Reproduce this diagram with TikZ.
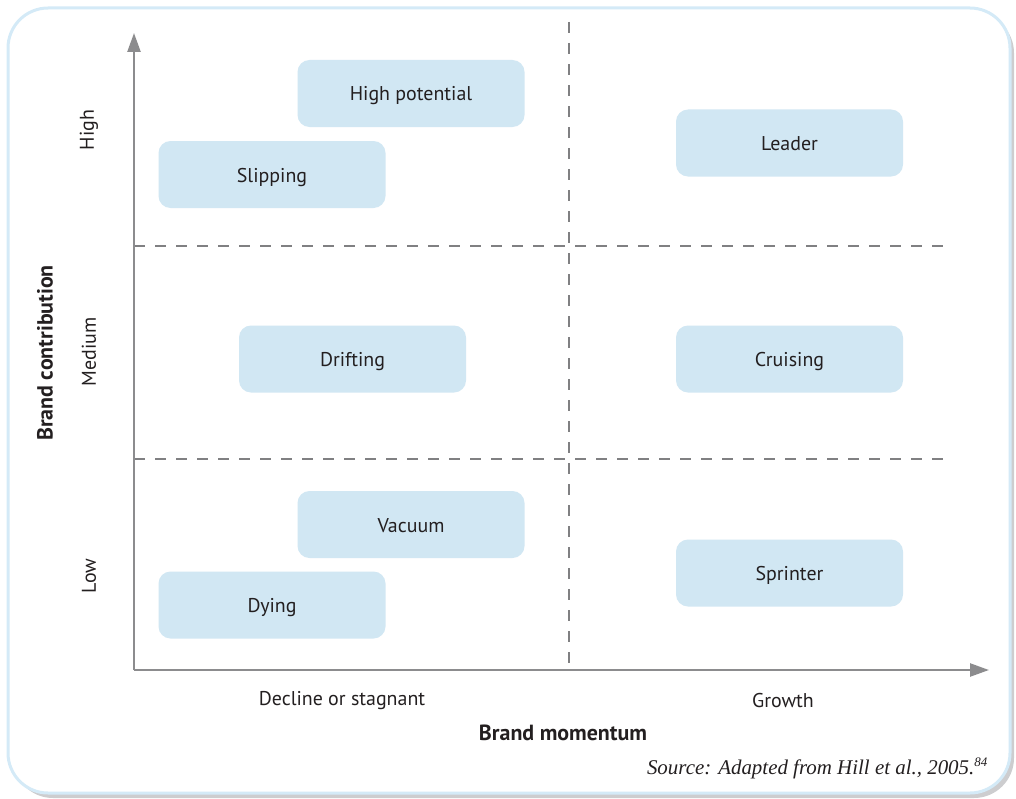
\documentclass[tikz,border=0pt]{standalone}
\usepackage{fontspec}
\setmainfont{PT Sans}
\newfontfamily\srcfont{Liberation Serif}
\usetikzlibrary{arrows.meta}

\definecolor{cellblue}{RGB}{209,231,243}
\definecolor{frameblue}{RGB}{212,234,247}
\definecolor{inkgrey}{RGB}{35,31,32}
\definecolor{axisgrey}{RGB}{140,140,142}
\definecolor{dashgrey}{RGB}{128,128,130}
\definecolor{shadowgrey}{RGB}{205,205,207}

\tikzset{
  cell/.style={fill=cellblue, rounded corners=12bp, minimum width=227bp,
    minimum height=67bp, inner sep=0pt, text=inkgrey,
    text height=15bp, text depth=0bp,
    font=\fontsize{20}{24}\selectfont},
  lbl/.style={text=inkgrey, inner sep=0pt, font=\fontsize{20}{24}\selectfont},
  boldlbl/.style={text=inkgrey, inner sep=0pt, font=\fontsize{22}{26}\selectfont\bfseries},
  axisline/.style={draw=axisgrey, line width=2.4bp, -{Triangle[length=19bp,width=13bp]}},
  divider/.style={draw=dashgrey, line width=2.2bp, dash pattern=on 11bp off 10bp}
}

\begin{document}
\begin{tikzpicture}[x=1bp, y=-1bp]
  \useasboundingbox (0,0) rectangle (1016,799);

  % panel with soft shadow
  \fill[shadowgrey, rounded corners=40bp] (13,13) rectangle (1014,798);
  \filldraw[fill=white, draw=frameblue, line width=3bp, rounded corners=40bp]
    (8,8) rectangle (1010,793);

  % quadrant dividers
  \coordinate (vtop) at (569,22);
  \coordinate (vbot) at (569,670);
  \coordinate (h1l) at (134,246);
  \coordinate (h1r) at (945,246);
  \coordinate (h2l) at (134,459);
  \coordinate (h2r) at (945,459);
  \draw[divider] (vtop) -- (vbot);
  \draw[divider] (h1l) -- (h1r);
  \draw[divider] (h2l) -- (h2r);

  % axes
  \coordinate (origin) at (134,670);
  \coordinate (ytip) at (134,33);
  \coordinate (xtip) at (989,670);
  \draw[axisline] (origin) -- (ytip);
  \draw[axisline] (origin) -- (xtip);

  % brand cells
  \node[cell] (highpot) at (411,93.5) {High potential};
  \node[cell] (slipping) at (272,174.5) {Slipping};
  \node[cell] (leader) at (789.5,143) {Leader};
  \node[cell] (drifting) at (352.5,359) {Drifting};
  \node[cell] (cruising) at (789.5,359) {Cruising};
  \node[cell] (vacuum) at (411,524.5) {Vacuum};
  \node[cell] (dying) at (272,605) {Dying};
  \node[cell] (sprinter) at (789.5,573) {Sprinter};

  % axis labels
  \node[lbl, rotate=90] (high) at (89,130) {High};
  \node[lbl, rotate=90] (medium) at (89,352) {Medium};
  \node[lbl, rotate=90] (low) at (89,576) {Low};
  \node[boldlbl, rotate=90] (ylab) at (45,353) {Brand contribution};
  \node[lbl] (decline) at (342,701) {Decline or stagnant};
  \node[lbl] (growth) at (783,701) {Growth};
  \node[boldlbl] (xlab) at (563,733) {Brand momentum};

  % source note
  \node[text=inkgrey, inner sep=0pt, anchor=base east,
    font=\srcfont\itshape\fontsize{21}{24}\selectfont] (source) at (988,774)
    {Source: Adapted from Hill et al., 2005.\textsuperscript{\fontsize{13}{15}\selectfont 84}};
\end{tikzpicture}
\end{document}
